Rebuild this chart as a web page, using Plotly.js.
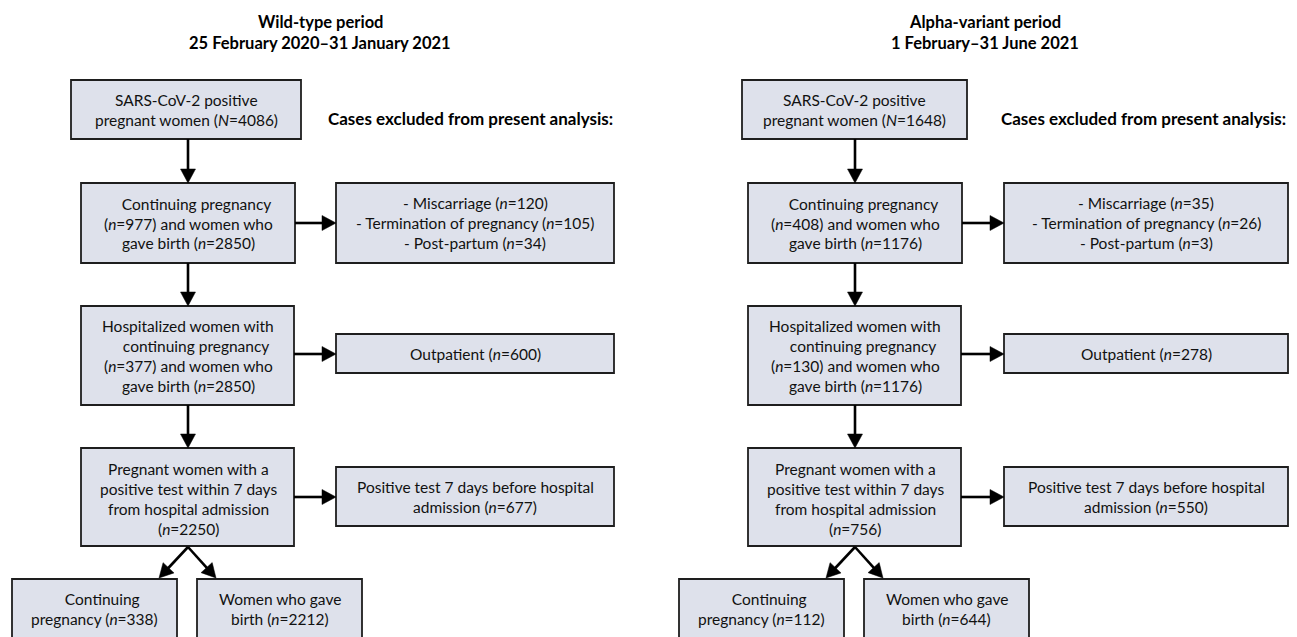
<!DOCTYPE html>
<html>
<head>
<meta charset="utf-8">
<script src="https://cdn.plot.ly/plotly-3.0.1.min.js"></script>
<style>html,body{margin:0;padding:0;background:#fff;}#chart{width:1297px;height:637px;}</style>
</head>
<body>
<div id="chart"></div>
<script>
// ---- data ----
const periods = ["Wild-type period", "Alpha-variant period"];
const periodDates = ["25 February 2020\u201331 January 2021", "1 February\u201331 June 2021"];
const totalN = [4086, 1648];
const continuing1 = [977, 408];
const gaveBirth1 = [2850, 1176];
const miscarriage = [120, 35];
const termination = [105, 26];
const postPartum = [34, 3];
const hospContinuing = [377, 130];
const gaveBirth2 = [2850, 1176];
const outpatient = [600, 278];
const within7 = [2250, 756];
const before7 = [677, 550];
const finalContinuing = [338, 112];
const finalBirth = [2212, 644];
const excludedHeading = "Cases excluded from present analysis:";

// ---- geometry (layout only) ----
const panelShift = [0, 667];
const box1X = [[71, 301], [742, 967]];
const exclX = [[336, 614], [1004, 1288]];
const headingX = [470, 1143];
const titleX = [320, 985];
const col = {x0: 81, x1: 295, cx: 188};
const FILL = "#dee1eb", EDGE = "#1e1e1e", FONT = "Lato, 'Open Sans', sans-serif";
const TXT = 15.5, HEAD = 17, TITLE = 16.5;

const shapes = [], annotations = [];
function rect(x0, x1, y0, y1) {
  shapes.push({type: "rect", xref: "x", yref: "y", x0, x1, y0, y1,
    fillcolor: FILL, line: {color: EDGE, width: 1.8}, layer: "above"});
}
function lines(cx, y0, texts, step) {
  texts.forEach((t, i) => annotations.push({x: cx, y: y0 + i * (step || 20), xref: "x", yref: "y",
    text: t, showarrow: false, xanchor: "center", yanchor: "middle",
    font: {family: FONT, size: TXT, color: "#111"}}));
}
function arrow(x0, y0, x1, y1) {
  const L = 14, W = 7.5;
  const dx = x1 - x0, dy = y1 - y0, len = Math.hypot(dx, dy);
  const ux = dx / len, uy = dy / len;
  const bx = x1 - ux * L, by = y1 - uy * L;
  shapes.push({type: "line", xref: "x", yref: "y", x0, y0, x1: bx + ux, y1: by + uy,
    line: {color: "#000", width: 2.6}});
  const p1 = [bx - uy * W, by + ux * W], p2 = [bx + uy * W, by - ux * W];
  shapes.push({type: "path", xref: "x", yref: "y",
    path: `M${x1},${y1} L${p1[0]},${p1[1]} L${p2[0]},${p2[1]} Z`,
    fillcolor: "#000", line: {color: "#000", width: 0.5}});
}
const NB = "\u00a0\u00a0\u00a0\u00a0";
const it = s => `<i>${s}</i>`;

[0, 1].forEach(p => {
  const o = panelShift[p];
  const cx = col.cx + o, x0 = col.x0 + o, x1 = col.x1 + o;
  const ex0 = exclX[p][0], ex1 = exclX[p][1], ecx = (ex0 + ex1) / 2;

  // titles
  annotations.push({x: titleX[p], y: 22, xref: "x", yref: "y", showarrow: false,
    text: `<b>${periods[p]}</b>`, font: {family: FONT, size: TITLE, color: "#000"}});
  annotations.push({x: titleX[p], y: 43, xref: "x", yref: "y", showarrow: false,
    text: `<b>${periodDates[p]}</b>`, font: {family: FONT, size: TITLE, color: "#000"}});
  annotations.push({x: headingX[p], y: 118, xref: "x", yref: "y", showarrow: false,
    text: `<b>${excludedHeading}</b>`, font: {family: FONT, size: HEAD, color: "#000"}});

  // main column boxes
  rect(box1X[p][0], box1X[p][1], 80, 139);
  lines((box1X[p][0] + box1X[p][1]) / 2, 100, ["SARS-CoV-2 positive",
    `pregnant women (${it("N")}=${totalN[p]})`]);

  rect(x0, x1, 183, 263);
  lines(cx, 204, [NB + "Continuing pregnancy",
    `(${it("n")}=${continuing1[p]}) and women who`,
    `gave birth (${it("n")}=${gaveBirth1[p]})`], 19.5);

  rect(x0, x1 - 1, 306, 405);
  lines(cx, 326, ["Hospitalized women with", NB + "continuing pregnancy",
    `(${it("n")}=${hospContinuing[p]}) and women who`,
    `gave birth (${it("n")}=${gaveBirth2[p]})`]);

  rect(x0, x1 - 1, 448, 546);
  lines(cx, 469, ["Pregnant women with a", "positive test within 7 days",
    "from hospital admission", `(${it("n")}=${within7[p]})`]);

  rect(12 + o, 177 + o, 579, 648);
  lines(94.5 + o, 599, [NB + "Continuing", `pregnancy (${it("n")}=${finalContinuing[p]})`]);
  rect(197 + o, 362 + o, 579, 648);
  lines(279.5 + o, 599, ["Women who gave", `birth (${it("n")}=${finalBirth[p]})`]);

  // exclusion boxes
  rect(ex0, ex1, 183, 263);
  lines(ecx, 203, [`- Miscarriage (${it("n")}=${miscarriage[p]})`,
    `- Termination of pregnancy (${it("n")}=${termination[p]})`,
    `- Post-partum (${it("n")}=${postPartum[p]})`]);
  rect(ex0, ex1, 334, 373);
  lines(ecx, 354, [`Outpatient (${it("n")}=${outpatient[p]})`]);
  rect(ex0, ex1, 467, 526);
  lines(ecx, 487, ["Positive test 7 days before hospital",
    `admission (${it("n")}=${before7[p]})`]);

  // arrows
  arrow(cx, 139, cx, 183);
  arrow(cx, 263, cx, 306);
  arrow(cx, 405, cx, 448);
  arrow(x1, 223, ex0, 223);
  arrow(x1 - 1, 354, ex0, 354);
  arrow(x1 - 1, 497, ex0, 497);
  arrow(cx, 547, 159 + o, 578);
  arrow(cx, 547, 216 + o, 578);
});

const layout = {
  width: 1297, height: 637,
  margin: {l: 0, r: 0, t: 0, b: 0, pad: 0},
  paper_bgcolor: "#fff", plot_bgcolor: "#fff",
  xaxis: {range: [0, 1297], visible: false, fixedrange: true, showgrid: false, zeroline: false},
  yaxis: {range: [637, 0], visible: false, fixedrange: true, showgrid: false, zeroline: false},
  showlegend: false,
  shapes, annotations
};
Plotly.newPlot("chart", [{x: [], y: [], type: "scatter", mode: "markers", hoverinfo: "skip"}], layout,
  {staticPlot: true, displayModeBar: false});
</script>
</body>
</html>
